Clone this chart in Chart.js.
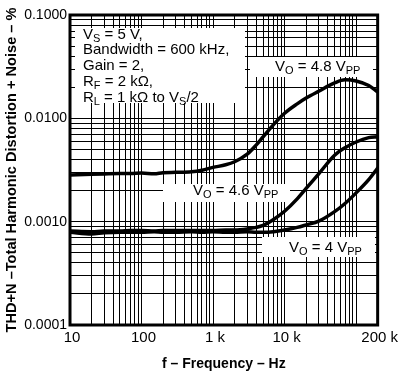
<!DOCTYPE html>
<html><head><meta charset="utf-8">
<script src="https://cdn.jsdelivr.net/npm/chart.js@4"></script>
<style>html,body{margin:0;padding:0;background:#fff}#wrap{width:400px;height:377px}</style>
</head><body><div id="wrap"><canvas id="c" width="400" height="377"></canvas></div>
<script>
// ---- data ----
const frequencies = [10, 20, 30, 50, 70, 100, 150, 200, 300, 500, 700, 1000, 1500, 2000, 3000, 4000, 5000, 7000, 10000, 15000, 20000, 30000, 50000, 70000, 100000, 150000, 200000];
const thdVo48 = [0.00283, 0.00288, 0.00290, 0.00292, 0.00292, 0.00295, 0.00291, 0.00298, 0.00300, 0.00304, 0.00315, 0.00335, 0.00355, 0.00380, 0.00450, 0.00550, 0.00660, 0.00870, 0.01120, 0.01380, 0.01570, 0.01830, 0.02200, 0.02360, 0.02300, 0.02080, 0.01800];
const thdVo46 = [0.00081, 0.00080, 0.00081, 0.00081, 0.00082, 0.00082, 0.00081, 0.00082, 0.00082, 0.00082, 0.00082, 0.00082, 0.00083, 0.00083, 0.00085, 0.00088, 0.00092, 0.00105, 0.00126, 0.00166, 0.00210, 0.00290, 0.00440, 0.00520, 0.00590, 0.00650, 0.00665];
const thdVo40 = [0.00079, 0.00076, 0.00078, 0.00079, 0.00079, 0.00079, 0.00080, 0.00079, 0.00079, 0.00080, 0.00079, 0.00080, 0.00079, 0.00079, 0.00080, 0.00079, 0.00079, 0.00080, 0.00083, 0.00088, 0.00093, 0.00101, 0.00125, 0.00150, 0.00190, 0.00255, 0.00330];
const seriesLabels = ['VO = 4.8 VPP', 'VO = 4.6 VPP', 'VO = 4 VPP'];

const xTickValues = [10, 100, 1000, 10000, 200000];
const xTickLabels = ['10', '100', '1 k', '10 k', '200 k'];
const yTickValues = [0.0001, 0.001, 0.01, 0.1];
const yTickLabels = ['0.0001', '0.0010', '0.0100', '0.1000'];

// grid positions: 1..9 per decade
const xGrid = [];
for (let d = 10; d < 200000; d *= 10) for (let m = 1; m < 10; m++) { const v = m * d; if (v <= 200000) xGrid.push(v); }
if (xGrid[xGrid.length - 1] !== 200000) xGrid.push(200000);
const yGrid = [];
for (let e = -4; e < -1; e++) for (let m = 1; m < 10; m++) yGrid.push(+(m * Math.pow(10, e)).toPrecision(3));
yGrid.push(0.1);

function labelFor(values, labels, v) {
  for (let i = 0; i < values.length; i++) if (Math.abs(values[i] - v) / values[i] < 1e-6) return labels[i];
  return '';
}

const FONT = '"Liberation Sans", Arial, Helvetica, sans-serif';

// rich text with subscripts: parts [text, isSub]
function drawRich(ctx, x, y, parts, size) {
  let cx = x;
  parts.forEach(([t, sub]) => {
    ctx.font = (sub ? Math.round(size * 0.7) : size) + 'px ' + FONT;
    ctx.fillText(t, cx, sub ? y + 3 : y);
    cx += ctx.measureText(t).width;
  });
}

const annot = {
  id: 'annot',
  beforeDatasetsDraw(chart) {
    const ctx = chart.ctx;
    ctx.save();
    ctx.fillStyle = '#fff';
    const boxes = [[75, 28, 245, 103], [250, 57, 373, 77], [163, 184, 290, 202], [262, 237, 375, 257]];
    boxes.forEach(b => ctx.fillRect(b[0], b[1], b[2] - b[0], b[3] - b[1]));
    ctx.fillStyle = '#000';
    ctx.textBaseline = 'alphabetic';
    ctx.textAlign = 'left';
    const S = 15;
    const lines = [
      [['V'], ['S', 1], [' = 5 V,']],
      [['Bandwidth = 600 kHz,']],
      [['Gain = 2,']],
      [['R'], ['F', 1], [' = 2 k\u03A9,']],
      [['R'], ['L', 1], [' = 1 k\u03A9 to V'], ['S', 1], ['/2']]
    ];
    lines.forEach((p, i) => drawRich(ctx, 83, 38.5 + 15.75 * i, p, S));
    drawRich(ctx, 275, 71, [['V'], ['O', 1], [' = 4.8 V'], ['PP', 1]], S);
    drawRich(ctx, 193, 195, [['V'], ['O', 1], [' = 4.6 V'], ['PP', 1]], S);
    drawRich(ctx, 289, 252, [['V'], ['O', 1], [' = 4 V'], ['PP', 1]], S);
    ctx.restore();
  },
  afterDatasetsDraw(chart) {
    const {ctx, chartArea: a} = chart;
    ctx.save();
    ctx.strokeStyle = '#000';
    ctx.lineWidth = 3;
    ctx.strokeRect(a.left, a.top, a.right - a.left, a.bottom - a.top);
    ctx.restore();
  }
};

function mk(data, label) {
  return {
    label,
    data: frequencies.map((f, i) => ({x: f, y: data[i]})),
    borderColor: '#000', borderWidth: 3.5, pointRadius: 0,
    fill: false, cubicInterpolationMode: 'monotone', borderCapStyle: 'round', borderJoinStyle: 'round'
  };
}

new Chart(document.getElementById('c'), {
  type: 'line',
  data: { datasets: [mk(thdVo48, seriesLabels[0]), mk(thdVo46, seriesLabels[1]), mk(thdVo40, seriesLabels[2])] },
  options: {
    responsive: false, animation: false, devicePixelRatio: 1,
    layout: { padding: { left: 0, right: 21, top: 15, bottom: 0 } },
    plugins: { legend: { display: false }, tooltip: { enabled: false } },
    scales: {
      x: {
        type: 'logarithmic', min: 10, max: 200000,
        afterBuildTicks: s => { s.ticks = xGrid.map(v => ({ value: v })); },
        afterFit: s => { s.height = 52; },
        ticks: { autoSkip: false, maxRotation: 0, minRotation: 0, padding: 4, labelOffset: 2, color: '#000',
          font: { family: FONT, size: 15 },
          callback: (v) => labelFor(xTickValues, xTickLabels, v) },
        grid: { color: '#000', lineWidth: 1, drawTicks: false },
        border: { display: false },
        title: { display: true, text: 'f \u2013 Frequency \u2013 Hz', color: '#000',
          font: { family: FONT, size: 14, weight: 'bold' }, padding: { top: 0, bottom: 4 } }
      },
      y: {
        type: 'logarithmic', min: 0.0001, max: 0.1,
        afterBuildTicks: s => { s.ticks = yGrid.map(v => ({ value: v })); },
        afterFit: s => { s.width = 70; },
        ticks: { autoSkip: false, padding: 3, color: '#000',
          font: { family: FONT, size: 14 },
          callback: (v) => labelFor(yTickValues, yTickLabels, v) },
        grid: { color: '#000', lineWidth: 1, drawTicks: false },
        border: { display: false },
        title: { display: true, text: 'THD+N \u2013Total Harmonic Distortion + Noise \u2013 %', color: '#000',
          font: { family: FONT, size: 14.6, weight: 'bold' }, padding: { top: 3, bottom: 0 } }
      }
    }
  },
  plugins: [annot]
});
</script>
</body></html>
